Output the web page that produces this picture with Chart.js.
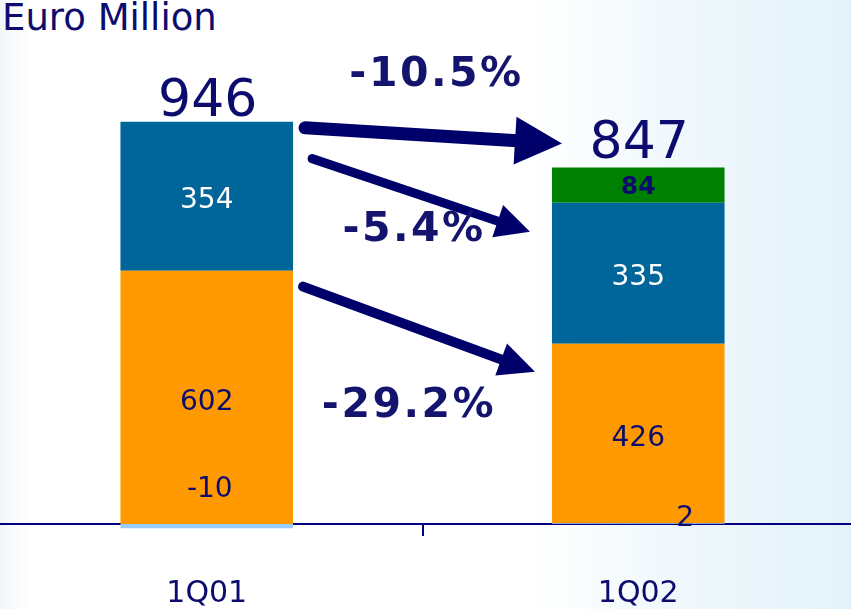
<!DOCTYPE html>
<html>
<head>
<meta charset="utf-8">
<script src="https://cdn.jsdelivr.net/npm/chart.js@4/dist/chart.umd.min.js"></script>
<style>
  html, body { margin: 0; padding: 0; width: 851px; height: 609px; overflow: hidden; }
  body {
    background:
      linear-gradient(to right, rgba(238,242,246,0.7) 0px, rgba(255,255,255,0) 30px),
      linear-gradient(to right, #ffffff 0%, #ffffff 62%, #eef7fc 82%, #e3f2fa 100%);
    position: relative;
  }
  #title { position: absolute; left: 2px; top: -4px; font-family: "DejaVu Sans", Verdana, sans-serif;
           font-size: 37px; color: #0c0c6e; white-space: nowrap; }
  #wrap { position: absolute; left: -9px; top: 0; width: 863px; height: 609px; }
</style>
</head>
<body>
<div id="title">Euro Million</div>
<div id="wrap"><canvas id="c"></canvas></div>
<script>
const categories = ['1Q01', '1Q02'];
const otherValues = [-10, 2];
const orangeValues = [602, 426];
const blueValues = [354, 335];
const greenValues = [null, 84];
const totals = [946, 847];
const changeLabels = ['-10.5%', '-5.4%', '-29.2%'];

const NAVY = '#0c0c6e';
const ARROW = '#00006b';
const FONT = '"DejaVu Sans", Verdana, sans-serif';

function drawArrow(ctx, x1, y1, x2, y2, shaftW, headLen, headHalf) {
  const ang = Math.atan2(y2 - y1, x2 - x1);
  const bx = x2 - headLen * Math.cos(ang), by = y2 - headLen * Math.sin(ang);
  ctx.save();
  ctx.strokeStyle = ARROW; ctx.fillStyle = ARROW;
  ctx.lineWidth = shaftW; ctx.lineCap = 'round';
  ctx.beginPath(); ctx.moveTo(x1, y1); ctx.lineTo(bx + 2 * Math.cos(ang), by + 2 * Math.sin(ang)); ctx.stroke();
  ctx.lineCap = 'butt';
  ctx.beginPath();
  ctx.moveTo(x2, y2);
  ctx.lineTo(bx - headHalf * Math.sin(ang), by + headHalf * Math.cos(ang));
  ctx.lineTo(bx + headHalf * Math.sin(ang), by - headHalf * Math.cos(ang));
  ctx.closePath(); ctx.fill();
  ctx.restore();
}

const annot = {
  id: 'annot',
  afterDatasetsDraw(chart) {
    const ctx = chart.ctx;
    const y = chart.scales.y;
    const mOther = chart.getDatasetMeta(0).data;
    const mOrange = chart.getDatasetMeta(1).data;
    const mBlue = chart.getDatasetMeta(2).data;
    const mGreen = chart.getDatasetMeta(3).data;
    const left = e => e.x - e.width / 2, right = e => e.x + e.width / 2;

    ctx.save();
    ctx.textAlign = 'center'; ctx.textBaseline = 'middle';
    // segment labels
    ctx.font = '28px ' + FONT;
    ctx.fillStyle = '#ffffff';
    blueValues.forEach((v, i) => { const e = mBlue[i]; ctx.fillText(String(v), e.x, (e.y + e.base) / 2 + 4.5); });
    ctx.fillStyle = NAVY;
    orangeValues.forEach((v, i) => { const e = mOrange[i]; ctx.fillText(String(v), e.x, (e.y + e.base) / 2 + 5); });
    // small "other" values
    const o0 = mOther[0];
    ctx.fillText(String(otherValues[0]), o0.x + 3, o0.base - 34);
    const o1 = mOther[1];
    ctx.fillText(String(otherValues[1]), o1.x + 47, o1.base - 5);
    // green
    ctx.font = 'bold 25px ' + FONT;
    greenValues.forEach((v, i) => { if (v == null) return; const e = mGreen[i]; ctx.fillText(String(v), e.x, (e.y + e.base) / 2 + 2); });
    // totals
    ctx.font = '52px ' + FONT;
    totals.forEach((t, i) => { ctx.fillText(String(t), mOrange[i].x + 1, y.getPixelForValue(t) - 23); });

    // arrows
    const b0 = mBlue[0], b1 = mBlue[1];
    const a1 = [right(b0) + 12, y.getPixelForValue(totals[0]) + 2, left(b1) + 10, y.getPixelForValue(totals[1]) - 24];
    const a2 = [right(b0) + 19, b0.y + 37, left(b1) - 22, b1.y + 29];
    const a3 = [right(mOrange[0]) + 10, mOrange[0].y + 16, left(mOrange[1]) - 17, mOrange[1].y + 28];
    drawArrow(ctx, ...a1, 13, 47, 24);
    drawArrow(ctx, ...a2, 9, 34, 17);
    drawArrow(ctx, ...a3, 10, 36, 17);

    ctx.font = 'bold 41px ' + FONT;
    ctx.letterSpacing = '2.5px';
    ctx.fillStyle = '#14146e';
    const mid = a => [(a[0] + a[2]) / 2, (a[1] + a[3]) / 2];
    let m = mid(a1); ctx.fillText(changeLabels[0], m[0] + 3, m[1] - 60);
    m = mid(a2); ctx.fillText(changeLabels[1], m[0] - 7, m[1] + 35);
    m = mid(a3); ctx.fillText(changeLabels[2], m[0] - 10, m[1] + 77);
    ctx.restore();
  }
};

new Chart(document.getElementById('c'), {
  type: 'bar',
  data: {
    labels: categories,
    datasets: [
      { label: 'other', data: otherValues, backgroundColor: '#99ccff', clip: false },
      { label: 'orange', data: orangeValues, backgroundColor: '#ff9900' },
      { label: 'blue', data: blueValues, backgroundColor: '#006699' },
      { label: 'green', data: greenValues, backgroundColor: '#008000' }
    ]
  },
  options: {
    responsive: true,
    maintainAspectRatio: false,
    animation: false,
    events: [],
    layout: { padding: 0 },
    datasets: { bar: { barPercentage: 0.4, categoryPercentage: 1, borderWidth: 0 } },
    plugins: { legend: { display: false }, tooltip: { enabled: false } },
    scales: {
      x: {
        stacked: true,
        z: 1,
        offset: true,
        border: { display: true, color: '#000080', width: 2 },
        grid: { display: true, offset: true, drawOnChartArea: false, drawTicks: true, tickLength: 12, color: '#000080', lineWidth: 2 },
        ticks: { color: NAVY, font: { family: FONT, size: 30 }, padding: 40 },
        afterFit(s) { s.height = 85; }
      },
      y: {
        stacked: true,
        display: false,
        min: 0,
        max: 1245
      }
    }
  },
  plugins: [annot]
});
</script>
</body>
</html>
